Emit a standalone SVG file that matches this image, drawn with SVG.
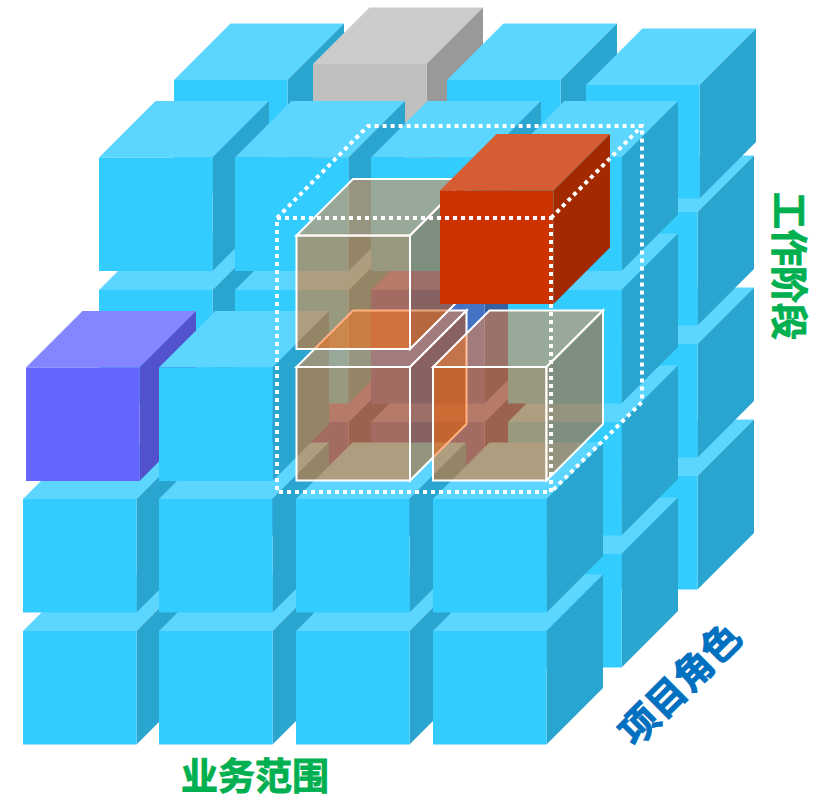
<svg xmlns="http://www.w3.org/2000/svg" width="828" height="797" viewBox="0 0 828 797">
<style>
.b{--f:#33CCFF;--t:#5CD6FF;--s:#2AA5CF}
.g{--f:#BFBFBF;--t:#CBCBCB;--s:#999999}
.r{--f:#CC3300;--t:#D65C33;--s:#A32900}
.p{--f:#6666FF;--t:#8585FF;--s:#5252CC}
.d{--f:#4472C4;--t:#6C8FD0;--s:#365F9F}
.o{--f:#FF6600;--t:#FF8533;--s:#CC5200}
.ff{fill:var(--f)}.tt{fill:var(--t)}.ss{fill:var(--s)}
.gl{fill-opacity:.5;stroke:#fff;stroke-width:2}
.dots{fill:none;stroke:#fff;stroke-width:4;stroke-dasharray:4 4}
.lab{font-family:"Noto Sans CJK SC","Liberation Sans",sans-serif;font-weight:700;font-size:37px;stroke-width:.9}
</style>
<defs>
<g id="c">
<polygon class="tt" points="0,0 56.5,-56.5 170,-56.5 113.5,0"/>
<polygon class="ss" points="113.5,0 170,-56.5 170,57 113.5,113.5"/>
<rect class="ff" width="113.5" height="113.5"/>
</g>
<g id="q">
<rect class="ff gl" width="113.5" height="113.5"/>
<polygon class="tt gl" points="0,0 56.5,-56.5 170,-56.5 113.5,0"/>
<polygon class="ss gl" points="113.5,0 170,-56.5 170,57 113.5,113.5"/>
</g>
</defs>
<g id="back-layer">
<use href="#c" class="b" x="584" y="476"/>
<use href="#c" class="b" x="584" y="344"/>
<use href="#c" class="b" x="584" y="212"/>
<use href="#c" class="b" x="174" y="80"/>
<use href="#c" class="g" x="313" y="64"/>
<use href="#c" class="b" x="447" y="80"/>
<use href="#c" class="b" x="586" y="85"/>
</g>
<g id="middle-layer">
<use href="#c" class="b" x="508" y="554"/>
<use href="#c" class="d" x="235" y="422"/>
<use href="#c" class="d" x="371" y="422"/>
<use href="#c" class="b" x="508" y="422"/>
<use href="#c" class="b" x="99" y="290"/>
<use href="#c" class="b" x="235" y="290"/>
<use href="#c" class="d" x="371" y="290"/>
<use href="#c" class="b" x="508" y="290"/>
<use href="#c" class="b" x="99" y="157.500"/>
<use href="#c" class="b" x="235" y="157.500"/>
<use href="#c" class="b" x="371" y="157.500"/>
<use href="#c" class="b" x="508" y="157.500"/>
</g>
<g id="front-layer">
<use href="#c" class="b" x="23" y="631"/>
<use href="#c" class="b" x="159" y="631"/>
<use href="#c" class="b" x="296" y="631"/>
<use href="#c" class="b" x="433" y="631"/>
<use href="#c" class="b" x="23" y="499"/>
<use href="#c" class="b" x="159" y="499"/>
<use href="#c" class="b" x="296" y="499"/>
<use href="#c" class="b" x="433" y="499"/>
<use href="#c" class="p" x="26" y="367.500"/>
<use href="#c" class="b" x="159" y="367.500"/>
</g>
<g id="selected-glass">
<use href="#q" class="o" x="296.500" y="367"/>
<use href="#q" class="o" x="296.500" y="235.500"/>
<use href="#q" class="o" x="433" y="367"/>
</g>
<g id="red-cube"><use href="#c" class="r" x="440" y="190.500"/></g>
<g id="selection-frame">
<path class="dots" d="M277 218H551V492H277Z"/>
<path class="dots" d="M277 218L368 126H642V402L551 492"/>
<path class="dots" d="M551 218L642 126"/>
</g>
<g id="labels">
<text class="lab" fill="#00B050" stroke="#00B050" x="181" y="790">业务范围</text>
<text class="lab" fill="#00B050" stroke="#00B050" transform="translate(775 192) rotate(90)">工作阶段</text>
<text class="lab" fill="#0070C0" stroke="#0070C0" style="font-size:38.5px" text-anchor="middle" transform="translate(680 684) rotate(-45)" y="14">项目角色</text>
</g>
</svg>
